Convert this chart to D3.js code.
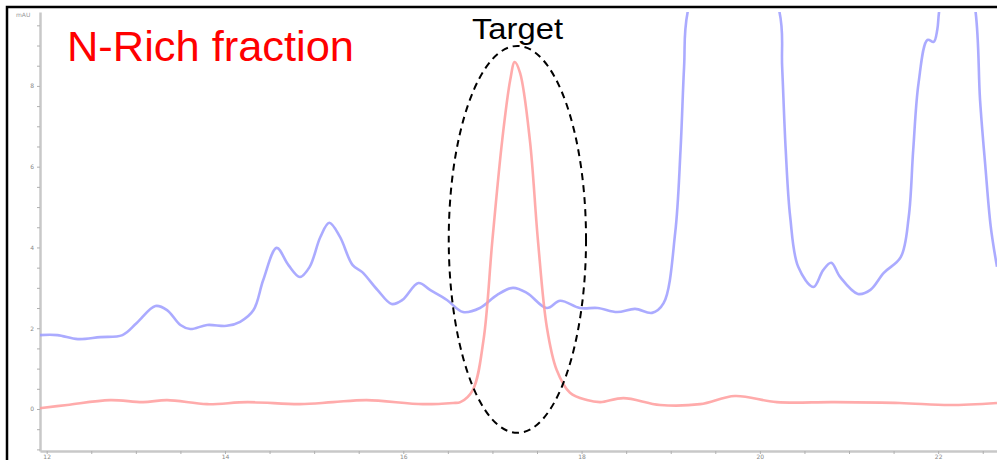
<!DOCTYPE html>
<html>
<head>
<meta charset="utf-8">
<script src="https://cdn.jsdelivr.net/npm/d3@7"></script>
<style>
  body { margin: 0; background: #fff; }
  svg { display: block; }
</style>
</head>
<body>
<svg width="997" height="460"></svg>
<script>
// retention time (min) / absorbance (mAU)
const blueTime = [11.92, 12.12, 12.35, 12.6, 12.85, 13.01, 13.22, 13.35, 13.5, 13.61, 13.8, 14.02, 14.17, 14.32,
  14.43, 14.58, 14.71, 14.84, 14.95, 15.07, 15.17, 15.29, 15.43, 15.54, 15.71, 15.87, 15.99, 16.17, 16.3,
  16.49, 16.67, 16.86, 17.05, 17.23, 17.39, 17.61, 17.76, 17.98, 18.18, 18.4, 18.6, 18.79, 18.92, 19.05,
  19.11, 19.15, 19.19, 19.67, 20.22, 20.25, 20.29, 20.34, 20.43, 20.6, 20.71, 20.8, 20.9, 21.1, 21.24,
  21.39, 21.58, 21.67, 21.72, 21.78, 21.88, 21.95, 21.99, 22.01, 22.2, 22.42, 22.47, 22.53, 22.59, 22.66];
const blueAbs = [1.83, 1.83, 1.73, 1.78, 1.83, 2.13, 2.55, 2.45, 2.08, 1.98, 2.08, 2.06, 2.16, 2.45,
  3.2, 3.99, 3.57, 3.27, 3.52, 4.26, 4.61, 4.26, 3.57, 3.39, 2.95, 2.6, 2.7, 3.12, 2.95,
  2.7, 2.4, 2.5, 2.82, 3.0, 2.87, 2.5, 2.68, 2.5, 2.5, 2.4, 2.48, 2.38, 2.62, 4.36,
  6.41, 8.47, 9.83, 13.0, 9.83, 8.47, 6.41, 4.76, 3.52, 3.02, 3.44, 3.62, 3.27, 2.85, 2.95,
  3.37, 3.76, 4.76, 6.41, 8.07, 9.14, 9.09, 9.39, 9.83, 12.5, 9.83, 7.65, 5.99, 4.51, 3.52];

const redTime = [11.92, 12.23, 12.71, 13.08, 13.35, 13.8, 14.25, 14.84, 15.21, 15.59, 16.22, 16.56, 16.64,
  16.78, 16.9, 17.0, 17.11, 17.2, 17.25, 17.31, 17.42, 17.51, 17.61, 17.72, 17.87, 18.06, 18.21,
  18.47, 18.88, 19.33, 19.72, 20.19, 20.82, 21.57, 22.13, 22.66];
const redAbs = [0.02, 0.1, 0.22, 0.17, 0.22, 0.12, 0.17, 0.12, 0.17, 0.22, 0.12, 0.15, 0.17,
  0.47, 1.71, 4.19, 6.66, 8.15, 8.59, 8.32, 6.66, 4.19, 2.03, 0.97, 0.4, 0.22, 0.17,
  0.27, 0.1, 0.12, 0.32, 0.17, 0.17, 0.15, 0.1, 0.15];

const xMajor = [12, 14, 16, 18, 20, 22];
const yMajor = [0, 2, 4, 6, 8];

// ellipse around the target peak, in data units
const target = { t: 17.28, v: 4.2, rt: 0.77, rv: 4.79 };

const svg = d3.select('svg');
const x = d3.scaleLinear().domain([11.925, 22.66]).range([40, 997]);
const y = d3.scaleLinear().domain([-1.04, 9.83]).range([451, 12]);

// soft edge like the scanned trace
const blur = svg.append('defs').append('filter').attr('id', 'soft');
blur.append('feGaussianBlur').attr('stdDeviation', 0.45);

// outer frame
svg.append('rect')
  .attr('x', 7).attr('y', 7).attr('width', 1000).attr('height', 470)
  .attr('fill', 'none').attr('stroke', '#000').attr('stroke-width', 2.5);

svg.append('clipPath').attr('id', 'plot')
  .append('rect').attr('x', 40).attr('y', 12).attr('width', 957).attr('height', 439);

// axes
const yAxis = d3.axisLeft(y)
  .tickValues(d3.range(-1, 9.9, 0.5))
  .tickSize(3).tickSizeOuter(0)
  .tickFormat(d => yMajor.includes(d) ? d : '');
const yAxisG = svg.append('g').attr('transform', 'translate(40,0)').call(yAxis);

const xAxis = d3.axisBottom(x)
  .tickValues(d3.range(12, 22.7, 0.5))
  .tickSize(3).tickSizeOuter(0)
  .tickFormat(d => xMajor.includes(d) ? d : '');
const xAxisG = svg.append('g').attr('transform', 'translate(0,451)').call(xAxis);

[yAxisG, xAxisG].forEach(g => {
  g.select('.domain').attr('stroke', '#c8c8c8').attr('stroke-width', 2.5);
  g.selectAll('.tick line').attr('stroke', '#b0b0b0');
  g.selectAll('.tick text').attr('fill', '#888').attr('font-size', 6)
    .attr('font-family', 'DejaVu Sans');
});
yAxisG.selectAll('.tick text').attr('x', -6);
xAxisG.selectAll('.tick text').attr('y', 4);

svg.append('text')
  .attr('x', 16).attr('y', 17)
  .attr('font-size', 6).attr('font-family', 'DejaVu Sans').attr('fill', '#999')
  .text('mAU');

const plot = svg.append('g').attr('clip-path', 'url(#plot)');

const line = d3.line()
  .x(d => x(d[0]))
  .y(d => y(d[1]))
  .curve(d3.curveCatmullRom.alpha(0.5));

plot.append('path')
  .datum(d3.zip(blueTime, blueAbs))
  .attr('fill', 'none')
  .attr('stroke', '#9c9cff')
  .attr('stroke-opacity', 0.85)
  .attr('stroke-width', 2.6)
  .attr('stroke-linejoin', 'round')
  .attr('filter', 'url(#soft)')
  .attr('d', line);

plot.append('path')
  .datum(d3.zip(redTime, redAbs))
  .attr('fill', 'none')
  .attr('stroke', '#ff9c9c')
  .attr('stroke-opacity', 0.85)
  .attr('stroke-width', 2.6)
  .attr('stroke-linejoin', 'round')
  .attr('filter', 'url(#soft)')
  .attr('d', line);

// dashed ellipse annotation
svg.append('ellipse')
  .attr('cx', x(target.t))
  .attr('cy', y(target.v))
  .attr('rx', x(target.t + target.rt) - x(target.t))
  .attr('ry', y(target.v) - y(target.v + target.rv))
  .attr('fill', 'none')
  .attr('stroke', '#000')
  .attr('stroke-width', 2)
  .attr('stroke-dasharray', '7,5');

svg.append('text')
  .attr('x', 67).attr('y', 61)
  .attr('font-family', 'Liberation Sans, Arial, sans-serif')
  .attr('font-size', 43)
  .attr('fill', '#ff0000')
  .attr('textLength', 287).attr('lengthAdjust', 'spacingAndGlyphs')
  .text('N-Rich fraction');

svg.append('text')
  .attr('x', 472).attr('y', 39)
  .attr('font-family', 'Liberation Sans, Arial, sans-serif')
  .attr('font-size', 29)
  .attr('fill', '#000')
  .attr('textLength', 91).attr('lengthAdjust', 'spacingAndGlyphs')
  .text('Target');
</script>
</body>
</html>
